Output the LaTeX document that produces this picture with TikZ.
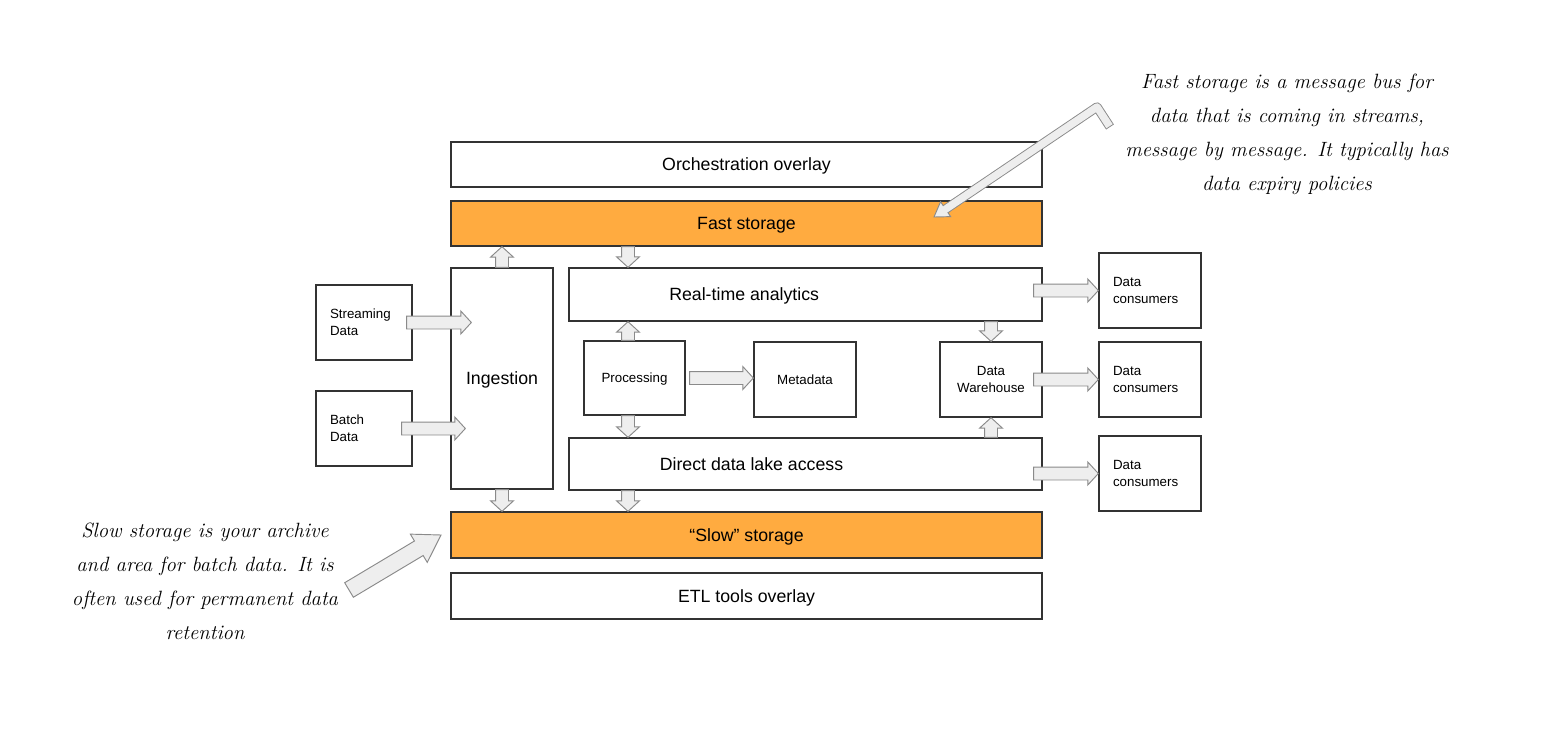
\documentclass[tikz,border=0pt]{standalone}
\usepackage{fontspec}
\setsansfont{Liberation Sans}
\usetikzlibrary{shapes.arrows,calc}
\definecolor{orangefill}{HTML}{FFAB40}
\definecolor{arrowfill}{HTML}{EEEEEE}
\definecolor{arrowline}{HTML}{8A8A8A}
\definecolor{boxline}{HTML}{333333}
\tikzset{
  frame/.style={draw=boxline, line width=1pt, fill=white, inner sep=0pt},
  box/.style={frame, text depth=0pt, font=\sffamily\fontsize{13.3}{16}\selectfont},
  smallbox/.style={box, font=\sffamily\fontsize{10}{12.75}\selectfont, align=center},
  leftbox/.style={frame, font=\sffamily\fontsize{10}{12.75}\selectfont, align=left, inner xsep=10.5pt},
  orangebox/.style={box, fill=orangefill},
  boxlabel/.style={font=\sffamily\fontsize{13.3}{16}\selectfont, text depth=0pt},
  blockar/.style={single arrow, draw=arrowline, fill=arrowfill, line width=0.7pt,
    inner xsep=0pt, inner ysep=4.5pt, single arrow head extend=3.75pt, single arrow tip angle=95,
    outer sep=0pt},
  hand/.style={font=\rmfamily\itshape\fontsize{15.5}{25.5}\selectfont, align=center, text=black}
}
\newcommand\barrow[3][]{%
  \path let \p1=(#2), \p2=(#3), \n1={veclen(\x2-\x1,\y2-\y1)} in
    (\p1) -- (\p2) node[pos=1, anchor=tip, sloped, allow upside down, blockar, minimum height=\n1, #1] {};}
\begin{document}
\begin{tikzpicture}[x=0.75pt, y=-0.75pt]
\fill[white] (0,0) rectangle (1552,738);
\useasboundingbox (0,0) rectangle (1552,738);

% horizontal layers
\node[box, minimum width=443.25pt, minimum height=33.75pt] (orch) at (746.5,164.5) {Orchestration overlay};
\node[orangebox, minimum width=443.25pt, minimum height=33.75pt] (fast) at (746.5,223.5) {Fast storage};
\node[orangebox, minimum width=443.25pt, minimum height=34.5pt] (slow) at (746.5,535) {``Slow'' storage};
\node[box, minimum width=443.25pt, minimum height=34.5pt] (etl) at (746.5,596) {ETL tools overlay};

% middle
\node[box, minimum width=76.5pt, minimum height=165.75pt] (ing) at (502,378.5) {Ingestion};
\node[box, minimum width=354.75pt, minimum height=39.75pt,
  label={[boxlabel, xshift=-46pt]center:Real-time analytics}] (rta) at (805.5,294.5) {};
\node[box, minimum width=354.75pt, minimum height=39pt,
  label={[boxlabel, xshift=-40.5pt]center:Direct data lake access}] (dla) at (805.5,464) {};
\node[smallbox, minimum width=75.75pt, minimum height=55.5pt] (proc) at (634.5,378) {Processing};
\node[smallbox, minimum width=76.5pt, minimum height=56.25pt] (meta) at (805,379.5) {Metadata};
\node[smallbox, minimum width=76.5pt, minimum height=56.25pt] (dw) at (991,379.5) {Data\\Warehouse};

% sources
\node[leftbox, text width=51pt, minimum height=56.25pt] (stream) at (364,322.5) {Streaming\\Data};
\node[leftbox, text width=51pt, minimum height=56.25pt] (batch) at (364,428.5) {Batch\\Data};

% consumers
\node[leftbox, text width=55.5pt, minimum height=56.25pt] (dc1) at (1150,290.5) {Data\\consumers};
\node[leftbox, text width=55.5pt, minimum height=56.25pt] (dc2) at (1150,379.5) {Data\\consumers};
\node[leftbox, text width=55.5pt, minimum height=56.25pt] (dc3) at (1150,473.5) {Data\\consumers};

% block arrows
\coordinate (c628) at (628,0);
\barrow{ing.north}{ing.north |- fast.south}
\barrow{ing.south}{ing.south |- slow.north}
\barrow{c628 |- fast.south}{c628 |- rta.north}
\barrow{c628 |- proc.north}{c628 |- rta.south}
\barrow{c628 |- proc.south}{c628 |- dla.north}
\barrow{c628 |- dla.south}{c628 |- slow.north}
\barrow{dw.north |- rta.south}{dw.north}
\barrow{dw.south |- dla.north}{dw.south}
\barrow{[xshift=-4.5pt]stream.east}{[xshift=15.75pt]stream.east -| ing.west}
\barrow{[xshift=-8.25pt]batch.east}{[xshift=11.25pt]batch.east -| ing.west}
\barrow{[xshift=3pt]proc.east}{proc.east -| meta.west}
\barrow{[xshift=-6.75pt]dc1.west -| rta.east}{dc1.west}
\barrow{[xshift=-6.75pt]dw.east}{dw.east -| dc2.west}
\barrow{[xshift=-6.75pt]dc3.west -| dla.east}{dc3.west}

% notes
\node[hand] (fastnote) at (1287,134) {Fast storage is a message bus for\\data that is coming in streams,\\message by message. It typically has\\data expiry policies};
\node[hand] (slownote) at (205,581) {Slow storage is your archive\\and area for batch data. It is\\often used for permanent data\\retention};

% slow callout arrow
\coordinate (slowtail) at (349,590);
\coordinate (slowtip) at ([xshift=-7pt]slow.west);
\barrow[inner ysep=6pt, single arrow head extend=6pt, single arrow tip angle=65]{slowtail}{slowtip}

% fast callout arrow (bent)
\coordinate (fhook) at (1110,127);
\coordinate (felbow) at (1097,107);
\coordinate (ftip) at (934,217);
\coordinate (fbase) at ($(ftip)!10.5pt!(felbow)$);
\coordinate (fc1) at ($(fbase)!6.75pt!90:(ftip)$);
\coordinate (fc2) at ($(fbase)!6.75pt!-90:(ftip)$);
\filldraw[draw=arrowline, fill=arrowfill, line width=0.7pt, line join=miter] (ftip) -- (fc1) -- (fc2) -- cycle;
\draw[arrowline, line width=7pt, line join=round] (fhook) -- (felbow) -- (fbase);
\draw[arrowfill, line width=5.6pt, line join=round, shorten <=0.7pt, shorten >=-1.5pt] (fhook) -- (felbow) -- (fbase);
\end{tikzpicture}
\end{document}
